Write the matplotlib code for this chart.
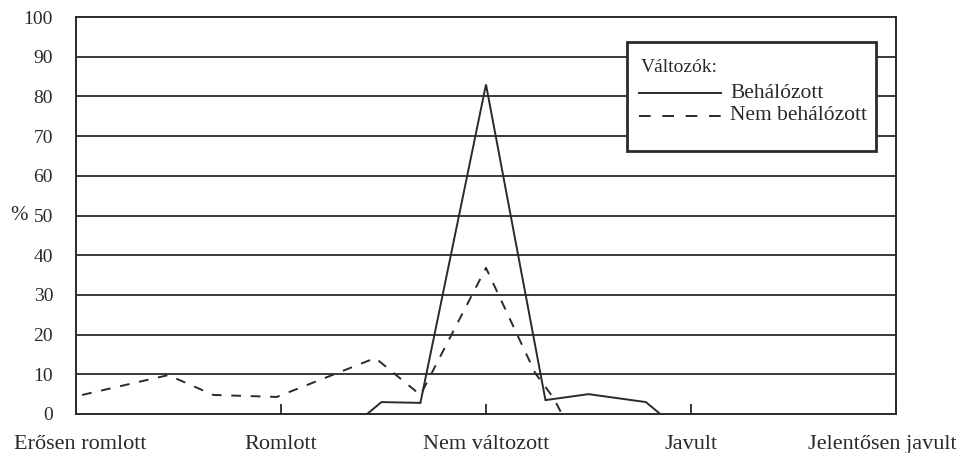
import matplotlib.pyplot as plt
import matplotlib.transforms as mtransforms
from matplotlib.lines import Line2D
from matplotlib.patches import Rectangle

# -------- data --------
categories = ["Erősen romlott", "Romlott", "Nem változott", "Javult", "Jelentősen javult"]

# behálózott (solid)
beh_x = [1.42, 1.49, 1.68, 2.00, 2.29, 2.50, 2.78, 2.85]
beh_y = [0.0, 3.0, 2.8, 83.0, 3.5, 5.0, 3.0, 0.0]

# nem behálózott (dashed)
nem_x = [0.03, 0.45, 0.67, 0.98, 1.46, 1.68, 2.00, 2.24, 2.33, 2.37]
nem_y = [4.8, 9.8, 4.8, 4.3, 14.1, 4.8, 36.8, 10.3, 4.0, 0.0]

y_ticks = list(range(0, 101, 10))
legend_title = "Változók:"
legend_labels = ["Behálózott", "Nem behálózott"]

INK = "#2a2a2a"
W, H = 962, 453
plt.rcParams["font.family"] = ["Liberation Serif", "DejaVu Serif"]

fig = plt.figure(figsize=(W / 100, H / 100), dpi=100)
ax = fig.add_axes([76 / W, 1 - 414 / H, (896 - 76) / W, (414 - 17) / H])

for y in y_ticks[1:-1]:
    ax.axhline(y, color=INK, lw=1.3, zorder=1)

ax.plot(beh_x, beh_y, color=INK, lw=1.4, solid_joinstyle="miter", zorder=3)
ax.plot(nem_x, nem_y, color=INK, lw=1.4, linestyle=(0, (5, 5)), zorder=3)

ax.set_xlim(0, len(categories) - 1)
ax.set_ylim(0, 100)
ax.set_xticks(range(len(categories)))
ax.set_xticklabels(categories, fontsize=16, color=INK)
ax.set_yticks(y_ticks)
ax.set_yticklabels([str(v) for v in y_ticks], fontsize=14, color=INK)
ax.tick_params(axis="x", direction="in", length=7, width=1.3, color=INK, pad=15)
ax.tick_params(axis="y", length=0, pad=16.5)
for s in ax.spines.values():
    s.set_color(INK)
    s.set_linewidth(1.4)

# nudge end labels inwards like the original
xl = ax.get_xticklabels()
xl[0].set_transform(xl[0].get_transform() + mtransforms.ScaledTranslation(4 / 100, 0, fig.dpi_scale_trans))
xl[-1].set_transform(xl[-1].get_transform() + mtransforms.ScaledTranslation(-14 / 100, 0, fig.dpi_scale_trans))

fig.text(19 / W, 1 - 216 / H, "%", fontsize=15, color=INK, ha="center", va="center")

# -------- legend box (drawn by hand, pixel layout) --------
def fx(px):
    return px / W

def fy(py):
    return 1 - py / H

fig.add_artist(Rectangle((fx(627), fy(151)), fx(876) - fx(627), fy(42) - fy(151),
                         transform=fig.transFigure, facecolor="white",
                         edgecolor=INK, lw=2, zorder=5))
fig.text(fx(641), fy(67), legend_title, fontsize=14, color=INK,
         ha="left", va="center", zorder=6)
styles = ["-", (0, (6, 6))]
for i, (lab, ls) in enumerate(zip(legend_labels, styles)):
    yy = fy(93 + 23 * i)
    fig.add_artist(Line2D([fx(639), fx(721)], [yy, yy], transform=fig.transFigure,
                          color=INK, lw=1.4, linestyle=ls, zorder=6))
    fig.text(fx(730), yy, lab, fontsize=15.5, color=INK, ha="left", va="center", zorder=6)

fig.savefig("out.png", dpi=100)
